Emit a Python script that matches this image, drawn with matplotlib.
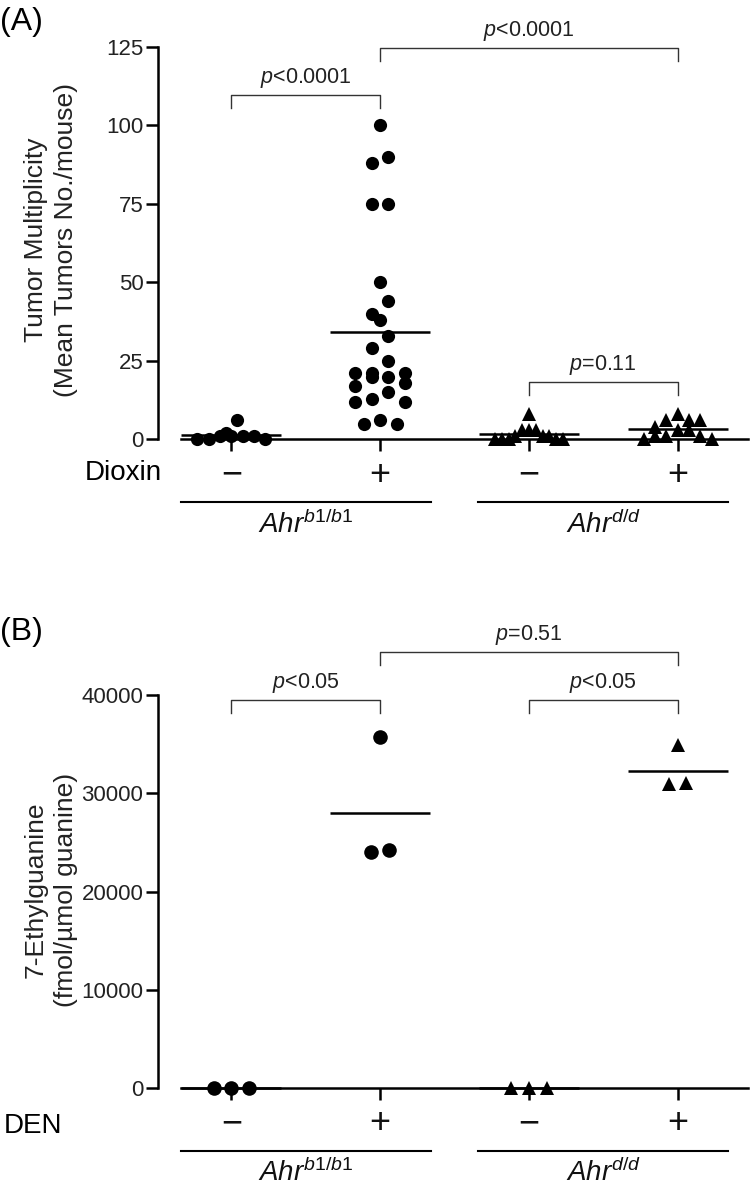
import numpy as np
import matplotlib
matplotlib.use("Agg")
import matplotlib.pyplot as plt
import matplotlib.transforms as mtransforms

plt.rcParams["font.family"] = ["Liberation Sans", "DejaVu Sans"]
plt.rcParams["mathtext.fontset"] = "custom"
plt.rcParams["mathtext.rm"] = "Liberation Sans"
plt.rcParams["mathtext.it"] = "Liberation Sans:italic"

treat_labels = ["\u2212", "+", "\u2212", "+"]
genotypes = ["$Ahr^{b1/b1}$", "$Ahr^{d/d}$"]
markers = ["o", "o", "^", "^"]

# Panel A: tumors per mouse
tumor_b1_ctrl = [6, 2, 1, 1, 1, 1, 0, 0, 0]
tumor_b1_dioxin = [100, 90, 88, 75, 75, 50, 44, 40, 38, 33, 29, 25, 21, 21, 21,
                   20, 20, 18, 17, 15, 13, 12, 12, 6, 5, 5]
tumor_dd_ctrl = [8, 3, 3, 3, 1, 1, 1, 0, 0, 0, 0, 0]
tumor_dd_dioxin = [8, 6, 6, 6, 4, 3, 3, 1, 1, 1, 0, 0]

# Panel B: 7-ethylguanine
eg_b1_ctrl = [0, 0, 0]
eg_b1_den = [35700, 24000, 24200]
eg_dd_ctrl = [0, 0, 0]
eg_dd_den = [34900, 30900, 31000]

# brackets: (left group, right group, height, drop, label)
brackets_a = [(0, 1, 109.7, 4.1, "$p$<0.0001"),
              (1, 3, 124.7, 4.1, "$p$<0.0001"),
              (2, 3, 18.3, 4.1, "$p$=0.11")]
brackets_b = [(0, 1, 39500, 1300, "$p$<0.05"),
              (2, 3, 39500, 1300, "$p$<0.05"),
              (1, 3, 44400, 1300, "$p$=0.51")]

W, H = 752, 1200
fig = plt.figure(figsize=(W / 100, H / 100), dpi=100)


def fy(py):
    return 1 - py / H


def row_offsets(vals, ypx, step, row_px=14, max_half=34):
    # Prism-like scatter: close values share a centred row
    vals = np.asarray(vals, float)
    order = np.argsort(-vals, kind="stable")
    rows, cur = [], [order[0]]
    for i in order[1:]:
        if (vals[cur[0]] - vals[i]) * ypx < row_px:
            cur.append(i)
        else:
            rows.append(cur)
            cur = [i]
    rows.append(cur)
    off = np.zeros(len(vals))
    for r in rows:
        n = len(r)
        slots = (np.arange(n) - (n - 1) / 2) * step
        slots = slots[np.argsort(np.abs(slots) - 1e-6 * slots, kind="stable")]
        for j, idx in enumerate(r):
            off[idx] = slots[j]
    span = np.abs(off).max()
    if span > max_half:
        off *= max_half / span
    return off


def make_panel(ax, data, ymax, yticks, brackets, text_off, axis_py, msize, step):
    ax.set_xlim(-0.494, 3.473)
    ax.set_ylim(0, ymax)
    bb = ax.get_position()
    xpx = bb.width * W / (3.473 + 0.494)
    ypx = bb.height * H / ymax
    for i, vals in enumerate(data):
        off = row_offsets(vals, ypx, step) / xpx
        ax.plot(i + off, vals, ls="none", marker=markers[i], ms=msize,
                mfc="black", mec="black", mew=0, clip_on=False, zorder=3)
        ax.hlines(np.mean(vals), i - 0.336, i + 0.336, color="black", lw=1.8,
                  zorder=4, clip_on=False)

    ax.set_yticks(yticks)
    ax.set_xticks(range(4))
    ax.set_xticklabels([])
    for s in ["top", "right"]:
        ax.spines[s].set_visible(False)
    ax.spines["left"].set_linewidth(1.8)
    ax.spines["bottom"].set_linewidth(1.8)
    ax.spines["bottom"].set_bounds(-0.34, 3.473)
    ax.tick_params(axis="both", direction="out", length=8.5, width=1.8,
                   labelsize=16, labelcolor="#222222", pad=2)

    for a, b, h, d, lab in brackets:
        ax.plot([a, a, b, b], [h - d, h, h, h - d], color="#333333", lw=1.0,
                clip_on=False)
        ax.text((a + b) / 2, h + text_off, lab, ha="center", va="bottom",
                fontsize=15.5, color="#222222")

    tr = mtransforms.blended_transform_factory(ax.transData, fig.transFigure)
    for i, lab in enumerate(treat_labels):
        fig.text(i, fy(axis_py + 36), lab, transform=tr, ha="center",
                 va="center", fontsize=26, color="#111111")
    for k, lab in enumerate(genotypes):
        c = 0.5 + 2 * k
        fig.add_artist(plt.Line2D([c - 0.84, c + 0.84],
                                  [fy(axis_py + 63), fy(axis_py + 63)],
                                  transform=tr, color="black", lw=1.5))
        fig.text(c, fy(axis_py + 85), lab, transform=tr, ha="center",
                 va="center", fontsize=20, color="#111111")


# Panel A
ax1 = fig.add_axes([158 / W, fy(439.3), (748 - 158) / W, (439.3 - 47) / H])
make_panel(ax1, [tumor_b1_ctrl, tumor_b1_dioxin, tumor_dd_ctrl, tumor_dd_dioxin],
           125, [0, 25, 50, 75, 100, 125], brackets_a, 1.6, 439.3, 9.5, 16.5)
fig.text(0.0, fy(22), "(A)", fontsize=23, ha="left", va="center")
fig.text(162 / W, fy(473), "Dioxin", fontsize=20, ha="right", va="center")
fig.text(36 / W, fy(240), "Tumor Multiplicity", rotation=90, fontsize=19,
         ha="center", va="center", color="#222222")
fig.text(66 / W, fy(240), "(Mean Tumors No./mouse)", rotation=90, fontsize=19,
         ha="center", va="center", color="#222222")

# Panel B
ax2 = fig.add_axes([158 / W, fy(1088), (748 - 158) / W, (1088 - 695) / H])
make_panel(ax2, [eg_b1_ctrl, eg_b1_den, eg_dd_ctrl, eg_dd_den],
           40000, [0, 10000, 20000, 30000, 40000], brackets_b, 500, 1088,
           10.5, 17.6)
fig.text(0.0, fy(632), "(B)", fontsize=23, ha="left", va="center")
fig.text(62 / W, fy(1126), "DEN", fontsize=20, ha="right", va="center")
fig.text(36 / W, fy(890), "7-Ethylguanine", rotation=90, fontsize=19,
         ha="center", va="center", color="#222222")
fig.text(66 / W, fy(890), "(fmol/\u00b5mol guanine)", rotation=90, fontsize=19,
         ha="center", va="center", color="#222222")

fig.savefig("out.png", dpi=100)
